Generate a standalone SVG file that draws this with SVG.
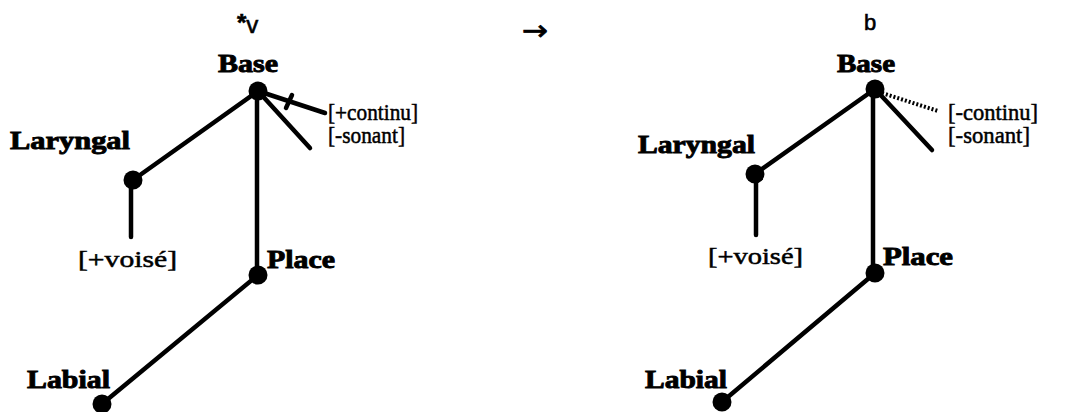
<svg xmlns="http://www.w3.org/2000/svg" width="1075" height="412" viewBox="0 0 1075 412">
  <style>
    .node { font-family: "Liberation Serif", "Times New Roman", serif; font-weight: bold; font-size: 25px; fill: #000; stroke: #000; stroke-width: 0.9; }
    .feat { font-family: "Liberation Serif", "Times New Roman", serif; font-size: 23px; fill: #000; stroke: #000; stroke-width: 0.5; }
    .seg { font-family: "Liberation Sans", Arial, sans-serif; font-size: 22px; fill: #000; stroke: #000; stroke-width: 0.6; }
    .arrow { font-family: "DejaVu Sans", sans-serif; font-size: 28px; fill: #000; stroke: #000; stroke-width: 0.8; }
    .edge { stroke: #000; stroke-width: 4.5; fill: none; stroke-linecap: round; }
    .dotted { stroke: #000; stroke-width: 4; fill: none; stroke-dasharray: 2 2; }
    .dot { fill: #000; }
  </style>
  <rect width="1075" height="412" fill="#fff"/>

  <!-- connectors: left tree (*v) -->
  <g id="connectors-left">
    <line class="edge" x1="258" y1="91" x2="133" y2="180"/>
    <line class="edge" x1="131" y1="180" x2="131" y2="237"/>
    <line class="edge" x1="257" y1="91" x2="257" y2="275"/>
    <line class="edge" x1="258" y1="275" x2="102" y2="404"/>
    <line class="edge" x1="258" y1="91" x2="325" y2="113"/>
    <line class="edge" x1="258" y1="91" x2="310" y2="148"/>
    <!-- delinking bar across [+continu] -->
    <line class="edge" x1="286" y1="108" x2="292" y2="95"/>
  </g>

  <!-- connectors: right tree (b) -->
  <g id="connectors-right">
    <line class="edge" x1="875" y1="89" x2="755" y2="174"/>
    <line class="edge" x1="756" y1="174" x2="756" y2="235"/>
    <line class="edge" x1="873" y1="89" x2="873" y2="273"/>
    <line class="edge" x1="875" y1="273" x2="722" y2="402"/>
    <line class="dotted" x1="882" y1="93" x2="938" y2="111"/>
    <line class="edge" x1="875" y1="89" x2="932" y2="150"/>
  </g>

  <!-- left tree -->
  <g id="seg-v">
    <text class="seg" x="237" y="33"><tspan font-size="24" font-weight="bold" dy="-2">*</tspan><tspan font-size="24" dy="2">v</tspan></text>
  </g>
  <g id="base-left">
    <circle class="dot" cx="258" cy="91" r="9.5"/>
    <text class="node" x="218" y="72" textLength="60" lengthAdjust="spacingAndGlyphs">Base</text>
  </g>
  <g id="laryngal-left">
    <circle class="dot" cx="133" cy="180" r="9.5"/>
    <text class="node" x="10" y="149" textLength="120" lengthAdjust="spacingAndGlyphs">Laryngal</text>
  </g>
  <g id="voise-left">
    <text class="feat" x="78" y="267" font-size="25" textLength="99" lengthAdjust="spacingAndGlyphs">[+voisé]</text>
  </g>
  <g id="place-left">
    <circle class="dot" cx="258" cy="275" r="9.5"/>
    <text class="node" x="267" y="268" textLength="68" lengthAdjust="spacingAndGlyphs">Place</text>
  </g>
  <g id="labial-left">
    <circle class="dot" cx="102" cy="404" r="9.5"/>
    <text class="node" x="27" y="388" textLength="83" lengthAdjust="spacingAndGlyphs">Labial</text>
  </g>
  <g id="continu-left">
    <text class="feat" x="328" y="120" textLength="90" lengthAdjust="spacingAndGlyphs">[+continu]</text>
  </g>
  <g id="sonant-left">
    <text class="feat" x="328" y="143" textLength="77" lengthAdjust="spacingAndGlyphs">[-sonant]</text>
  </g>

  <!-- rewrite arrow -->
  <g id="arrow">
    <text class="arrow" x="522" y="40" textLength="26" lengthAdjust="spacingAndGlyphs">→</text>
  </g>

  <!-- right tree -->
  <g id="seg-b">
    <text class="seg" x="864" y="30">b</text>
  </g>
  <g id="base-right">
    <circle class="dot" cx="875" cy="89" r="9.5"/>
    <text class="node" x="837" y="72" textLength="58" lengthAdjust="spacingAndGlyphs">Base</text>
  </g>
  <g id="laryngal-right">
    <circle class="dot" cx="755" cy="174" r="9.5"/>
    <text class="node" x="638" y="153" textLength="117" lengthAdjust="spacingAndGlyphs">Laryngal</text>
  </g>
  <g id="voise-right">
    <text class="feat" x="708" y="264" font-size="25" textLength="95" lengthAdjust="spacingAndGlyphs">[+voisé]</text>
  </g>
  <g id="place-right">
    <circle class="dot" cx="875" cy="273" r="9.5"/>
    <text class="node" x="883" y="265" textLength="70" lengthAdjust="spacingAndGlyphs">Place</text>
  </g>
  <g id="labial-right">
    <circle class="dot" cx="722" cy="402" r="9.5"/>
    <text class="node" x="645" y="388" textLength="82" lengthAdjust="spacingAndGlyphs">Labial</text>
  </g>
  <g id="continu-right">
    <text class="feat" x="948" y="120" textLength="90" lengthAdjust="spacingAndGlyphs">[-continu]</text>
  </g>
  <g id="sonant-right">
    <text class="feat" x="948" y="143" textLength="82" lengthAdjust="spacingAndGlyphs">[-sonant]</text>
  </g>
</svg>
